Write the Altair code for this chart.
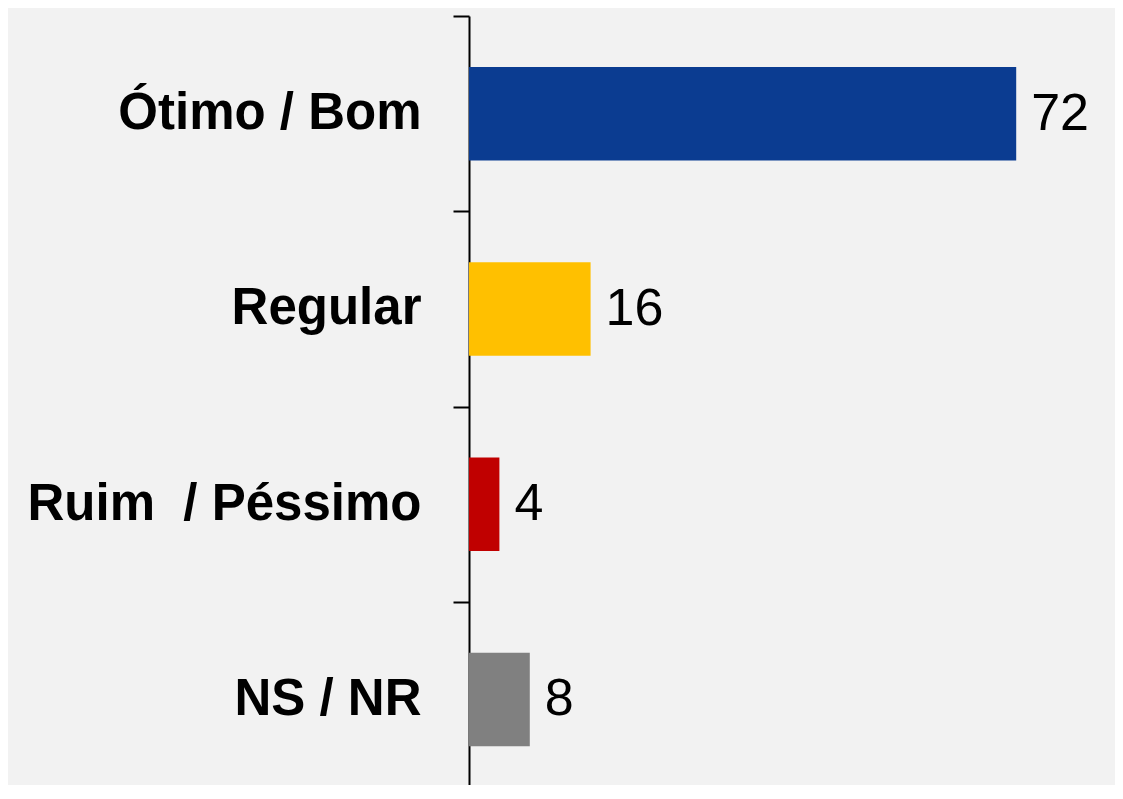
import altair as alt
import pandas as pd

categories = ["Ótimo / Bom", "Regular", "Ruim\u00a0 / Péssimo", "NS / NR"]
values = [72, 16, 4, 8]
colors = ["#0b3c91", "#ffc000", "#c00000", "#808080"]

df = pd.DataFrame({"cat": categories, "val": values, "color": colors})

y = alt.Y("cat:N", sort=categories, title=None,
          scale=alt.Scale(paddingInner=0, paddingOuter=0),
          axis=alt.Axis(tickBand="extent", tickSize=16, tickWidth=2, tickColor="#000",
                        domainColor="#000", domainWidth=2, labelPadding=32,
                        labelFont="Liberation Sans", labelFontSize=51, labelFontWeight="bold",
                        labelColor="#000", labelLimit=600))
x = alt.X("val:Q", scale=alt.Scale(domain=[0, 80], nice=False), axis=None)

bars = alt.Chart(df).mark_bar(size=93.5).encode(
    x=x, y=y, color=alt.Color("color:N", scale=None)
)
text = alt.Chart(df).mark_text(align="left", baseline="middle", dx=15, dy=0,
                               font="Liberation Sans", fontSize=52, color="#000").encode(
    x=x, y=y, text="val:Q"
)

chart = (bars + text).properties(
    width=608, height=781,
    background="#f2f2f2",
    padding={"left": 461, "top": 8, "right": 38, "bottom": -12},
    autosize=alt.AutoSizeParams(type="none"),
).configure_view(stroke=None)

chart.save("out.html", embed_options={"renderer": "svg", "actions": False})
